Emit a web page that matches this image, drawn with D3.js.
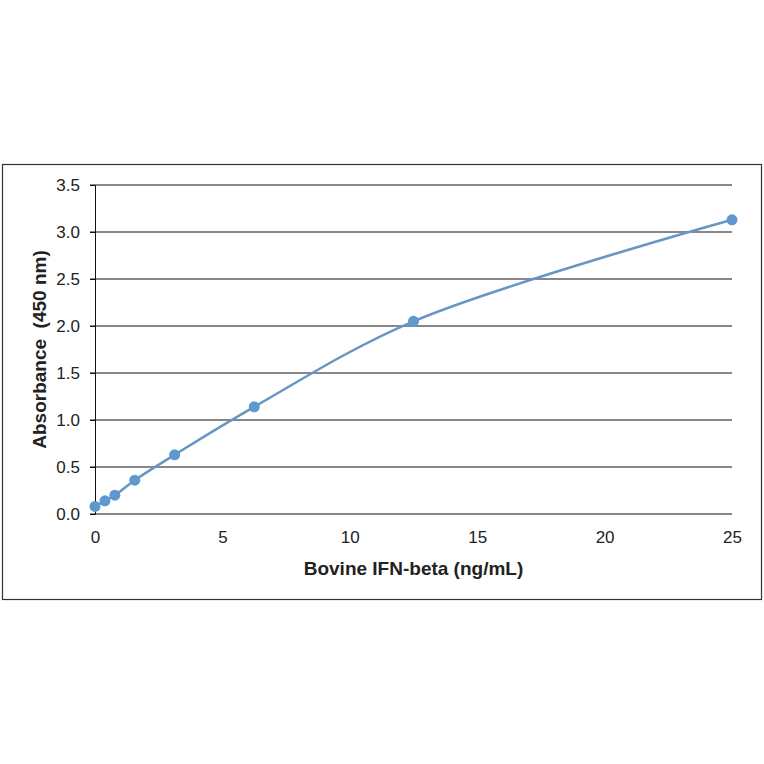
<!DOCTYPE html>
<html>
<head>
<meta charset="utf-8">
<script src="https://cdn.jsdelivr.net/npm/d3@7"></script>
<style>
  body { margin: 0; background: #fff; }
  text { font-family: "Liberation Sans", Arial, sans-serif; fill: #222; }
</style>
</head>
<body>
<div id="chart"></div>
<script>
// standard curve readings
const conc = [0, 0.39, 0.78, 1.56, 3.125, 6.25, 12.5, 25];
const absorbance = [0.08, 0.14, 0.20, 0.36, 0.63, 1.14, 2.05, 3.13];
const xTicks = [0, 5, 10, 15, 20, 25];
const yTicks = [0, 0.5, 1.0, 1.5, 2.0, 2.5, 3.0, 3.5];

const W = 764, H = 764;
const plotL = 95, plotR = 732, plotT = 185, plotB = 514;

const svg = d3.select("#chart").append("svg")
	.attr("width", W).attr("height", H);

// outer frame
svg.append("rect")
	.attr("x", 2.5).attr("y", 164.5)
	.attr("width", 759).attr("height", 435)
	.attr("fill", "none").attr("stroke", "#333").attr("stroke-width", 1.2);

const x = d3.scaleLinear().domain([0, 25]).range([plotL, plotR]);
const y = d3.scaleLinear().domain([0, 3.5]).range([plotB, plotT]);

// horizontal gridlines
svg.append("g")
	.selectAll("line")
	.data(yTicks)
	.enter().append("line")
	.attr("x1", plotL - 5).attr("x2", plotR)
	.attr("y1", d => y(d)).attr("y2", d => y(d))
	.attr("stroke", "#111").attr("stroke-width", 1);

// y axis
const yAxis = svg.append("g")
	.attr("transform", `translate(${plotL},0)`)
	.call(d3.axisLeft(y).tickValues(yTicks).tickFormat(d3.format(".1f")).tickSize(5).tickPadding(10));
yAxis.select(".domain").attr("stroke", "#111");
yAxis.selectAll(".tick line").attr("stroke", "#111");
yAxis.selectAll("text").style("font-size", "17px").attr("fill", "#222");

// x axis labels
const xAxis = svg.append("g")
	.attr("transform", `translate(0,${plotB})`)
	.call(d3.axisBottom(x).tickValues(xTicks).tickSize(0).tickPadding(17));
xAxis.select(".domain").remove();
xAxis.selectAll("text").style("font-size", "17px").attr("fill", "#222");

// axis titles
svg.append("text")
	.attr("x", (plotL + plotR) / 2).attr("y", 575)
	.attr("text-anchor", "middle")
	.style("font-size", "19px").style("font-weight", "bold")
	.text("Bovine IFN-beta (ng/mL)");

svg.append("text")
	.attr("transform", `translate(46,${(plotT + plotB) / 2}) rotate(-90)`)
	.attr("text-anchor", "middle")
	.style("font-size", "19px").style("font-weight", "bold")
	.style("white-space", "pre")
	.text("Absorbance  (450 nm)");

// smoothed curve
const pts = conc.map((c, i) => [c, absorbance[i]]);
const line = d3.line()
	.x(d => x(d[0])).y(d => y(d[1]))
	.curve(d3.curveCatmullRom.alpha(0.5));

svg.append("path")
	.datum(pts)
	.attr("d", line)
	.attr("fill", "none")
	.attr("stroke", "#6796c4")
	.attr("stroke-width", 2.5);

svg.append("g")
	.selectAll("circle")
	.data(pts)
	.enter().append("circle")
	.attr("cx", d => x(d[0]))
	.attr("cy", d => y(d[1]))
	.attr("r", 5.5)
	.attr("fill", "#5f97cf");
</script>
</body>
</html>
